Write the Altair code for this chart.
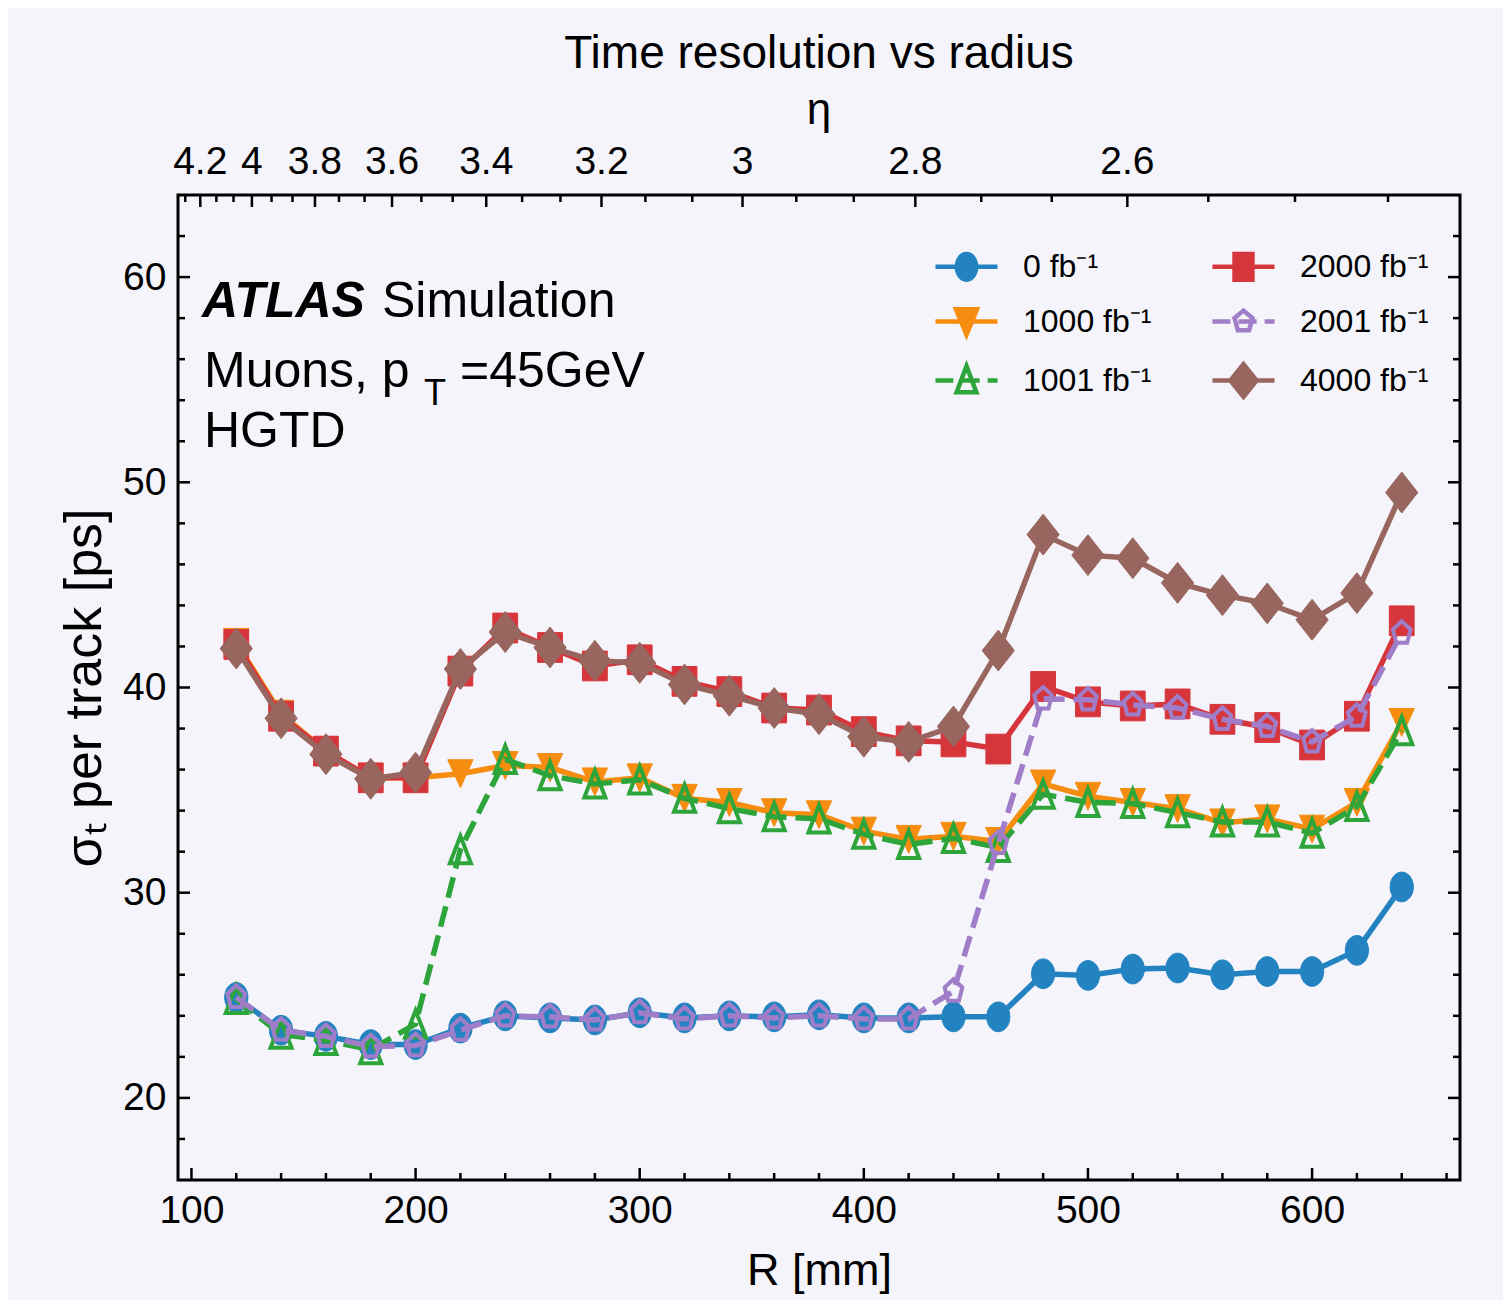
import altair as alt
import pandas as pd
import numpy as np

# ---------------- data ----------------
R_MM = [120, 140, 160, 180, 200, 220, 240, 260, 280, 300, 320, 340, 360, 380,
        400, 420, 440, 460, 480, 500, 520, 540, 560, 580, 600, 620, 640]

SIG_0 = [24.9, 23.3, 23.0, 22.6, 22.6, 23.4, 24.0, 23.9, 23.8, 24.15, 23.9, 24.0, 23.95, 24.05,
         23.9, 23.9, 23.95, 23.95, 26.05, 25.97, 26.28, 26.33, 26.0, 26.16, 26.16, 27.19, 30.28]
SIG_1000 = [42.2, 38.7, 36.9, 35.6, 35.6, 35.8, 36.2, 36.1, 35.4, 35.6, 34.6, 34.4, 33.9, 33.8,
            33.0, 32.6, 32.75, 32.5, 35.3, 34.7, 34.4, 34.1, 33.4, 33.6, 33.1, 34.4, 38.3]
SIG_1001 = [24.8, 23.1, 22.8, 22.35, 23.6, 32.1, 36.5, 35.7, 35.3, 35.5, 34.6, 34.1, 33.7, 33.6,
            32.85, 32.35, 32.65, 32.2, 34.8, 34.4, 34.35, 33.9, 33.45, 33.45, 32.9, 34.2, 37.9]
SIG_2000 = [42.1, 38.6, 36.9, 35.6, 35.6, 40.8, 42.9, 41.95, 41.05, 41.35, 40.3, 39.8, 39.0, 38.9,
            37.85, 37.4, 37.35, 37.0, 40.05, 39.3, 39.1, 39.2, 38.45, 38.05, 37.2, 38.6, 43.25]
SIG_2001 = [24.9, 23.3, 23.0, 22.5, 22.55, 23.3, 24.0, 23.95, 23.8, 24.15, 23.85, 24.0, 23.9, 24.0,
            23.85, 23.85, 25.2, 32.4, 39.45, 39.4, 39.15, 39.0, 38.45, 38.1, 37.35, 38.6, 42.65]
SIG_4000 = [41.9, 38.5, 36.75, 35.55, 35.85, 40.9, 42.7, 41.95, 41.3, 41.2, 40.15, 39.6, 39.0, 38.7,
            37.6, 37.35, 38.1, 41.8, 47.45, 46.45, 46.3, 45.1, 44.5, 44.1, 43.3, 44.6, 49.5]

SERIES = ["0 fb⁻¹", "1000 fb⁻¹", "1001 fb⁻¹", "2000 fb⁻¹", "2001 fb⁻¹", "4000 fb⁻¹"]
VALUES = [SIG_0, SIG_1000, SIG_1001, SIG_2000, SIG_2001, SIG_4000]

X_MAJOR = [100, 200, 300, 400, 500, 600]
Y_MAJOR = [20, 30, 40, 50, 60]
ETA_MAJOR = [4.2, 4.0, 3.8, 3.6, 3.4, 3.2, 3.0, 2.8, 2.6]
ETA_LABELS = ["4.2", "4", "3.8", "3.6", "3.4", "3.2", "3", "2.8", "2.6"]

TITLE = "Time resolution vs radius"
ETA_TITLE = "η"
X_TITLE = "R [mm]"
Y_TITLE = "σₜ per track [ps]"

# ---------------- style ----------------
FONT = "Liberation Sans, Arial, sans-serif"
BG = "#f4f4fa"
W, H = 1282, 985
COLORS = ["#2383c1", "#f78d10", "#2da53a", "#d6363b", "#a07dc8", "#98665e"]
DASHED = [False, False, True, False, True, False]
FILLED = [True, True, False, True, False, True]
LW = 5.5
DASH = [21, 9]
Z_HGTD = 3465  # mm, for eta <-> R conversion

# marker paths (in units of sqrt(size)/2)
MARK_SIZE = 960
MARKERS = [
    "M-0.75,0A0.75,0.96 0 1,0 0.75,0A0.75,0.96 0 1,0 -0.75,0Z",
    "M-0.82,-0.9L0.82,-0.9L0,0.9Z",
    "M0,-0.875L0.68,0.875L-0.68,0.875Z",
    "M-0.8,-0.96L0.8,-0.96L0.8,0.96L-0.8,0.96Z",
    "M0,-0.77L0.57,-0.24L0.35,0.62L-0.35,0.62L-0.57,-0.24Z",
    "M0,-1.32L1.04,0L0,1.32L-1.04,0Z",
]

# legend symbols: line + marker, 16 px per unit
LEG_SOLID = "M-1.94,0L1.94,0"
LEG_DASH = "M-1.94,0L-0.82,0M-0.31,0L0.82,0M1.32,0L1.94,0"
LEG_MARK = [
    "M-0.6,0A0.6,0.8 0 1,0 0.6,0A0.6,0.8 0 1,0 -0.6,0Z",
    "M-0.66,-0.76L0.66,-0.76L0,0.84Z",
    "M0,-0.9L0.62,0.74L-0.62,0.74Z",
    "M-0.56,-0.8L0.56,-0.8L0.56,0.8L-0.56,0.8Z",
    "M0,-0.68L0.56,-0.21L0.35,0.55L-0.35,0.55L-0.56,-0.21Z",
    "M0,-1.02L0.82,0L0,1.02L-0.82,0Z",
]
LEG_PATHS = [(LEG_DASH if d else LEG_SOLID) + m for d, m in zip(DASHED, LEG_MARK)]

# ---------------- tables ----------------
long_df = pd.concat(
    [pd.DataFrame({"R": R_MM, "sigma": v, "series": s}) for s, v in zip(SERIES, VALUES)],
    ignore_index=True,
)
x_minor = [v for v in range(100, 661, 20) if v not in X_MAJOR]
y_minor = [v for v in range(18, 63, 2) if v not in Y_MAJOR]
eta_minor_all = [round(4.2 + 1 / 15 - k / 15, 4) for k in range(29)]
eta_minor = [e for e in eta_minor_all if min(abs(e - m) for m in ETA_MAJOR) > 1e-3]

XS = alt.Scale(domain=[94, 666], nice=False, zero=False)
YS = alt.Scale(domain=[16, 64], nice=False, zero=False)
XA = alt.Axis(values=X_MAJOR, format="d", grid=False, domain=False, ticks=False, tickSize=0,
              labelFont=FONT, labelFontSize=39, labelColor="black", labelPadding=11,
              titleFont=FONT, titleFontSize=45, titleFontWeight="normal", titleColor="black",
              titleBaseline="alphabetic", titleY=104)
YA = alt.Axis(values=Y_MAJOR, format="d", grid=False, domain=False, ticks=False, tickSize=0,
              labelFont=FONT, labelFontSize=39, labelColor="black", labelPadding=12,
              titleFont=FONT, titleFontSize=52, titleFontWeight="normal", titleColor="black",
              titleAngle=-90, titleBaseline="middle", titleAlign="center", titleX=-94)


def X(field="R"):
    return alt.X(f"{field}:Q", scale=XS, axis=XA, title=X_TITLE)


def Y(field="sigma"):
    return alt.Y(f"{field}:Q", scale=YS, axis=YA, title=Y_TITLE)


TICK_W = 2.5
MAJ, MIN = 12, 7
layers = []

# bottom ticks (inward)
for vals, ln in ((X_MAJOR, MAJ), (x_minor, MIN)):
    layers.append(alt.Chart(pd.DataFrame({"R": vals})).mark_rule(color="black", strokeWidth=TICK_W)
                  .encode(x=X(), y=alt.value(H), y2=alt.value(H - ln)))
# left & right ticks
for vals, ln in ((Y_MAJOR, MAJ), (y_minor, MIN)):
    df = pd.DataFrame({"sigma": vals})
    layers.append(alt.Chart(df).mark_rule(color="black", strokeWidth=TICK_W)
                  .encode(y=Y(), x=alt.value(0), x2=alt.value(ln)))
    layers.append(alt.Chart(df).mark_rule(color="black", strokeWidth=TICK_W)
                  .encode(y=Y(), x=alt.value(W), x2=alt.value(W - ln)))
# top eta ticks
calc_R = f"{Z_HGTD}*tan(2*atan(exp(-datum.eta)))"
for vals, ln in ((ETA_MAJOR, MAJ), (eta_minor, MIN)):
    layers.append(alt.Chart(pd.DataFrame({"eta": vals})).transform_calculate(R=calc_R)
                  .mark_rule(color="black", strokeWidth=TICK_W)
                  .encode(x=X(), y=alt.value(0), y2=alt.value(ln)))
# top eta labels
layers.append(alt.Chart(pd.DataFrame({"eta": ETA_MAJOR, "label": ETA_LABELS}))
              .transform_calculate(R=calc_R)
              .mark_text(font=FONT, fontSize=39, color="black", baseline="alphabetic", align="center")
              .encode(x=X(), y=alt.value(-21), text="label:N"))

# data series
for i, s in enumerate(SERIES):
    base = alt.Chart(long_df).transform_filter(alt.datum.series == s)
    line_kw = dict(color=COLORS[i], strokeWidth=LW)
    if DASHED[i]:
        line_kw["strokeDash"] = DASH
    layers.append(base.mark_line(**line_kw).encode(x=X(), y=Y()))
    if FILLED[i]:
        pt = base.mark_point(shape=MARKERS[i], size=MARK_SIZE, filled=True, fill=COLORS[i],
                             stroke=COLORS[i], strokeWidth=1, opacity=1)
    else:
        pt = base.mark_point(shape=MARKERS[i], size=MARK_SIZE, filled=False, fill="transparent",
                             stroke=COLORS[i], strokeWidth=4, opacity=1)
    layers.append(pt.encode(x=X(), y=Y()))


# annotations
def label(txt, x, y, size, **kw):
    return (alt.Chart(pd.DataFrame({"t": [txt]}))
            .mark_text(font=FONT, fontSize=size, color="black", align=kw.pop("align", "left"),
                       baseline="alphabetic", **kw)
            .encode(text="t:N", x=alt.value(x), y=alt.value(y)))


layers += [
    label(TITLE, W / 2, -127, 46, align="center"),
    label(ETA_TITLE, W / 2, -71, 44, align="center"),
    label("ATLAS", 24, 122, 50, fontWeight="bold", fontStyle="italic"),
    label("Simulation", 204, 122, 50),
    label("Muons, p", 26, 192, 50),
    label("T", 246, 210, 36),
    label("=45GeV", 282, 192, 50),
    label("HGTD", 26, 252, 50),
]

# legend (built by Vega-Lite from the scales; layer itself draws nothing)
leg_domain = SERIES
legend = alt.Legend(title=None, orient="none", legendX=770, legendY=53, columns=2,
                    columnPadding=51, rowPadding=11, padding=0,
                    symbolSize=1024, symbolStrokeWidth=4.5,
                    labelFont=FONT, labelFontSize=32, labelColor="black", labelOffset=38,
                    labelLimit=0)
layers.append(
    alt.Chart(long_df).transform_filter("false").mark_point(opacity=1, filled=True)
    .encode(
        shape=alt.Shape("series:N", scale=alt.Scale(domain=leg_domain, range=LEG_PATHS), legend=legend),
        stroke=alt.Stroke("series:N", scale=alt.Scale(domain=leg_domain, range=COLORS), legend=legend),
        fill=alt.Fill("series:N", scale=alt.Scale(domain=leg_domain,
                                                  range=[c if f else "transparent"
                                                         for c, f in zip(COLORS, FILLED)]),
                      legend=legend),
    )
)

chart = (
    alt.layer(*layers)
    .properties(width=W, height=H,
                autosize=alt.AutoSizeParams(type="none"),
                padding={"left": 170, "top": 187, "right": 43, "bottom": 120})
    .configure(background=BG)
    .configure_view(stroke="black", strokeWidth=3, fill=BG)
)

chart.save("out.html", embed_options={"renderer": "svg", "actions": False})
